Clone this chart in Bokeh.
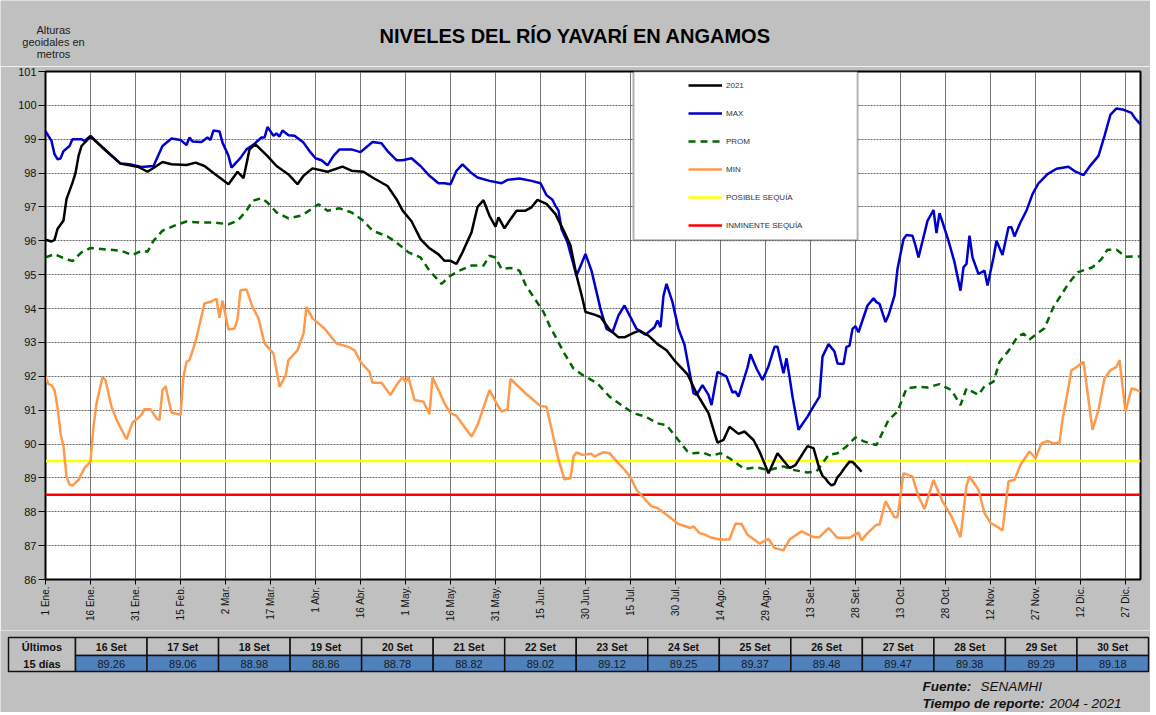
import numpy as np
from bokeh.plotting import figure
from bokeh.models import (Range1d, FixedTicker, Legend, LegendItem, BoxAnnotation)
from bokeh.layouts import column
from bokeh.embed import file_html
from bokeh.resources import INLINE
from bokeh.core.properties import value

FONT = "Liberation Sans"
BG = "#C0C0C0"

# ---------------- data (day of year, 0 = 1 Ene) ----------------
TICK_DAYS = list(range(0, 361, 15))
TICK_LABELS = ["1 Ene.", "16 Ene.", "31 Ene.", "15 Feb.", "2 Mar.", "17 Mar.", "1 Abr.",
               "16 Abr.", "1 May.", "16 May.", "31 May.", "15 Jun.", "30 Jun.", "15 Jul.",
               "30 Jul.", "14 Ago.", "29 Ago.", "13 Set.", "28 Set.", "13 Oct.", "28 Oct.",
               "12 Nov.", "27 Nov.", "12 Dic.", "27 Dic."]

TABLE_DATES = ["16 Set", "17 Set", "18 Set", "19 Set", "20 Set", "21 Set", "22 Set", "23 Set",
               "24 Set", "25 Set", "26 Set", "27 Set", "28 Set", "29 Set", "30 Set"]
TABLE_DAYS = list(range(258, 273))
TABLE_VALUES = [89.26, 89.06, 88.98, 88.86, 88.78, 88.82, 89.02, 89.12,
                89.25, 89.37, 89.48, 89.47, 89.38, 89.29, 89.18]

Y2021_DAYS = [0, 2, 3, 4, 6, 7, 9, 10, 11, 12, 15, 21, 25, 31, 34, 37, 39, 42, 47, 50, 53, 56,
              61, 64, 66, 68, 70, 74, 77, 81, 84, 86, 89, 94, 99, 102, 106, 109, 114, 117, 119,
              122, 125, 128, 131, 133, 135, 137, 139, 142, 144, 146, 148, 150, 151, 153, 155,
              157, 160, 162, 164, 167, 170, 173, 175, 177, 179, 180, 183, 185, 188, 191, 193,
              196, 198, 201, 204, 207, 210, 214, 217, 221, 223, 224, 226, 228, 231, 233, 236,
              238, 241, 244, 248, 250, 254, 256]
Y2021_VALS = [96.03, 95.98, 96.03, 96.35, 96.6, 97.23, 97.72, 98.0, 98.5, 98.8, 99.08, 98.6,
              98.28, 98.18, 98.04, 98.21, 98.33, 98.26, 98.24, 98.31, 98.21, 98.0, 97.67, 98.04,
              97.85, 98.7, 98.85, 98.5, 98.21, 97.96, 97.67, 97.92, 98.14, 98.04, 98.19, 98.07,
              98.04, 97.87, 97.62, 97.23, 96.9, 96.58, 96.05, 95.78, 95.6, 95.41, 95.41, 95.32,
              95.66, 96.25, 97.0, 97.2, 96.74, 96.42, 96.69, 96.37, 96.64, 96.89, 96.89, 96.99,
              97.21, 97.09, 96.79, 96.25, 95.86, 94.98, 94.29, 93.9, 93.82, 93.75, 93.38, 93.15,
              93.15, 93.28, 93.35, 93.2, 92.95, 92.77, 92.43, 92.06, 91.5, 90.91, 90.32, 90.04,
              90.12, 90.51, 90.3, 90.37, 90.12, 89.78, 89.14, 89.73, 89.29, 89.38, 89.94, 89.88]

MAX_DAYS = [0, 2, 3, 4, 5, 6, 8, 9, 12, 13, 15, 19, 25, 28, 32, 36, 39, 42, 45, 47, 48, 49, 52,
            54, 55, 56, 58, 59, 61, 62, 65, 67, 69, 72, 73, 74, 76, 77, 78, 79, 81, 83, 86, 88,
            90, 92, 94, 96, 98, 102, 105, 109, 112, 114, 117, 119, 122, 125, 128, 131, 133, 135,
            137, 139, 142, 144, 148, 152, 154, 158, 162, 165, 167, 169, 170, 171, 172, 174, 177,
            180, 182, 185, 187, 189, 191, 193, 197, 200, 203, 204, 205, 206, 207, 209, 211, 213,
            216, 217, 219, 221, 222, 224, 227, 229, 230, 231, 234, 235, 237, 239, 241, 243, 244,
            246, 247, 248, 249, 251, 254, 256, 258, 259, 261, 263, 264, 266, 267, 268, 269, 270,
            271, 274, 276, 277, 278, 280, 281, 283, 284, 286, 287, 289, 290, 291, 294, 296, 297,
            298, 299, 301, 303, 305, 306, 307, 308, 309, 311, 313, 314, 316, 317, 319, 321, 322,
            323, 325, 327, 329, 331, 334, 337, 341, 343, 346, 348, 351, 353, 355, 357, 359, 362,
            363, 365]
MAX_VALS = [99.24, 98.95, 98.56, 98.41, 98.43, 98.65, 98.8, 99.0, 99.0, 98.95, 99.1, 98.75,
            98.28, 98.26, 98.18, 98.21, 98.8, 99.02, 98.98, 98.83, 99.05, 98.93, 98.92, 99.05,
            98.98, 99.26, 99.23, 98.9, 98.51, 98.16, 98.45, 98.7, 98.82, 99.05, 99.05, 99.36,
            99.1, 99.17, 99.08, 99.26, 99.12, 99.1, 98.9, 98.65, 98.44, 98.38, 98.23, 98.51, 98.7,
            98.7, 98.62, 98.92, 98.88, 98.65, 98.38, 98.38, 98.44, 98.21, 97.92, 97.7, 97.7, 97.67,
            98.07, 98.26, 98.0, 97.87, 97.77, 97.7, 97.8, 97.84, 97.77, 97.7, 97.35, 97.21, 97.03,
            96.89, 96.35, 95.95, 94.97, 95.61, 95.12, 93.99, 93.4, 93.3, 93.8, 94.09, 93.4, 93.23,
            93.45, 93.65, 93.45, 94.38, 94.73, 94.19, 93.4, 92.93, 91.5, 91.45, 91.74, 91.45,
            91.15, 92.13, 91.99, 91.52, 91.55, 91.4, 92.26, 92.65, 92.23, 91.89, 92.3, 92.87,
            92.87, 92.09, 92.53, 91.99, 91.4, 90.42, 90.81, 91.11, 91.4, 92.58, 92.95, 92.73,
            92.38, 92.36, 92.87, 92.9, 93.4, 93.48, 93.3, 94.09, 94.3, 94.19, 94.14, 93.6, 93.8,
            94.38, 95.17, 96.05, 96.17, 96.15, 95.86, 95.51, 96.59, 96.91, 96.23, 96.82, 96.55,
            96.0, 95.37, 94.53, 95.22, 95.32, 96.15, 95.51, 95.02, 95.12, 94.68, 95.51, 96.0,
            95.58, 96.4, 96.4, 96.13, 96.55, 96.89, 97.38, 97.7, 97.97, 98.13, 98.19, 98.06,
            97.94, 98.19, 98.51, 99.1, 99.73, 99.91, 99.88, 99.78, 99.64, 99.44]

PROM_DAYS = [0, 3, 6, 9, 12, 15, 21, 25, 29, 32, 34, 36, 39, 43, 47, 52, 56, 61, 64, 67, 69, 72,
             74, 77, 81, 85, 87, 91, 94, 98, 102, 106, 109, 114, 117, 121, 125, 128, 132, 135,
             138, 142, 146, 148, 150, 152, 155, 158, 160, 163, 166, 168, 170, 173, 176, 179,
             184, 188, 192, 196, 200, 204, 207, 210, 214, 216, 219, 222, 225, 228, 231, 233,
             237, 241, 246, 249, 254, 257, 261, 264, 267, 270, 273, 277, 281, 284, 287, 291,
             294, 298, 302, 305, 307, 311, 313, 316, 318, 321, 324, 326, 328, 333, 336, 341,
             344, 349, 352, 354, 357, 360, 365]
PROM_VALS = [95.51, 95.61, 95.49, 95.4, 95.66, 95.79, 95.74, 95.71, 95.58, 95.71, 95.68, 96.0,
             96.3, 96.45, 96.57, 96.54, 96.54, 96.49, 96.59, 96.89, 97.18, 97.26, 97.13, 96.84,
             96.66, 96.74, 96.84, 97.08, 96.89, 96.96, 96.84, 96.59, 96.3, 96.13, 95.95, 95.66,
             95.51, 95.12, 94.73, 94.97, 95.12, 95.27, 95.27, 95.56, 95.51, 95.17, 95.2, 95.12,
             94.7, 94.3, 93.9, 93.5, 93.17, 92.67, 92.23, 92.04, 91.79, 91.4, 91.15, 90.91,
             90.81, 90.61, 90.56, 90.22, 89.78, 89.73, 89.75, 89.65, 89.73, 89.58, 89.39, 89.26,
             89.31, 89.23, 89.34, 89.24, 89.16, 89.19, 89.68, 89.73, 89.93, 90.2, 90.07, 89.97,
             90.71, 90.96, 91.64, 91.69, 91.67, 91.77, 91.59, 91.15, 91.64, 91.45, 91.71, 91.84,
             92.43, 92.75, 93.17, 93.26, 93.09, 93.42, 94.05, 94.74, 95.07, 95.22, 95.46, 95.74,
             95.74, 95.53, 95.54]

MIN_DAYS = [0, 1, 2, 3, 4, 5, 6, 7, 8, 9, 11, 13, 15, 16, 17, 19, 20, 22, 24, 27, 29, 32, 33, 35,
            37, 38, 39, 40, 42, 45, 46, 47, 48, 50, 53, 55, 57, 58, 59, 61, 63, 64, 65, 67, 69,
            71, 73, 76, 78, 80, 81, 84, 86, 87, 89, 93, 97, 101, 103, 105, 108, 109, 112, 115,
            117, 119, 120, 121, 123, 126, 128, 129, 133, 135, 137, 142, 144, 148, 151, 152, 154,
            155, 160, 165, 167, 169, 171, 173, 175, 176, 177, 179, 182, 183, 186, 188, 191, 193,
            195, 197, 199, 202, 204, 207, 211, 215, 216, 218, 220, 222, 225, 228, 230, 232, 234,
            238, 241, 243, 246, 248, 252, 256, 258, 261, 264, 268, 271, 272, 274, 277, 278, 280,
            283, 284, 286, 289, 291, 293, 296, 299, 302, 305, 307, 308, 311, 313, 315, 317, 319,
            321, 323, 325, 328, 330, 332, 334, 336, 338, 339, 342, 343, 346, 349, 351, 353, 355,
            357, 358, 360, 362, 363, 365]
MIN_VALS = [91.99, 91.77, 91.74, 91.59, 91.1, 90.32, 89.93, 89.04, 88.8, 88.77, 88.94, 89.29,
            89.48, 90.51, 91.2, 91.97, 91.89, 91.1, 90.66, 90.14, 90.63, 90.86, 91.03, 91.03,
            90.76, 90.71, 91.59, 91.71, 90.93, 90.86, 91.99, 92.43, 92.48, 93.02, 94.15, 94.2,
            94.29, 93.73, 94.23, 93.38, 93.41, 93.68, 94.54, 94.56, 94.05, 93.71, 92.97, 92.67,
            91.69, 92.01, 92.48, 92.77, 93.26, 94.05, 93.71, 93.41, 92.97, 92.87, 92.77, 92.43,
            92.13, 91.81, 91.81, 91.45, 91.74, 91.97, 91.84, 91.97, 91.3, 91.25, 90.88, 91.97,
            91.2, 90.91, 90.83, 90.22, 90.56, 91.59, 91.1, 90.96, 91.03, 91.92, 91.5, 91.12,
            91.1, 90.32, 89.53, 88.96, 88.99, 89.63, 89.75, 89.68, 89.71, 89.63, 89.76, 89.73,
            89.43, 89.24, 89.02, 88.65, 88.45, 88.16, 88.11, 87.91, 87.64, 87.52, 87.57, 87.37,
            87.32, 87.23, 87.18, 87.18, 87.65, 87.64, 87.32, 87.06, 87.2, 86.93, 86.86, 87.18,
            87.42, 87.25, 87.25, 87.52, 87.23, 87.23, 87.39, 87.16, 87.37, 87.62, 87.62, 88.31,
            87.84, 87.84, 89.14, 89.04, 88.45, 88.08, 88.94, 88.31, 87.86, 87.25, 88.77, 89.04,
            88.65, 87.96, 87.67, 87.57, 87.45, 88.9, 88.94, 89.39, 89.78, 89.58, 90.02, 90.09,
            90.02, 90.04, 90.71, 92.18, 92.23, 92.43, 90.42, 91.01, 91.94, 92.18, 92.28, 92.48,
            90.96, 91.64, 91.62, 91.55]

POSIBLE_SEQUIA = 89.5
INMINENTE_SEQUIA = 88.5
YEAR_SPAN = [0, 365]

TITLE = "NIVELES DEL RÍO YAVARÍ EN ANGAMOS"
Y_CAPTION = ["Alturas", "geoidales en", "metros"]

W = 1150

# ---------------- header (title + y caption) ----------------
h = figure(width=W, height=66, x_range=Range1d(0, W), y_range=Range1d(66, 0),
           output_backend="svg", toolbar_location=None, min_border=0,
           x_axis_type=None, y_axis_type=None, background_fill_color=BG,
           border_fill_color=BG, outline_line_color=None)
h.frame_align = False
h.text(x=[575], y=[35], text=[TITLE], text_align="center", text_baseline="middle",
       text_font=value(FONT), text_font_style="bold", text_font_size="20px",
       text_color="black")
h.text(x=[53, 53, 53], y=[29, 41, 53], text=Y_CAPTION, text_align="center",
       text_baseline="middle", text_font=value(FONT), text_font_size="11px",
       text_color="#222222")

# ---------------- main chart ----------------
p = figure(width=W, height=564, x_range=Range1d(0, 365), y_range=Range1d(86, 101),
           output_backend="svg", toolbar_location=None,
           min_border_left=45, min_border_right=10, min_border_top=5, min_border_bottom=51,
           background_fill_color="white", border_fill_color=BG)
p.frame_align = False

r_pos = p.line(YEAR_SPAN, [POSIBLE_SEQUIA] * 2, line_color="#FFFF00", line_width=2.5)
r_inm = p.line(YEAR_SPAN, [INMINENTE_SEQUIA] * 2, line_color="#FF0000", line_width=2.5)
r_min = p.line(MIN_DAYS, MIN_VALS, line_color="#FF9A4D", line_width=2.5)
r_prom = p.line(PROM_DAYS, PROM_VALS, line_color="#006600", line_width=2.5, line_dash="7 5")
r_max = p.line(MAX_DAYS, MAX_VALS, line_color="#0000CC", line_width=2.5)
r_2021 = p.line(Y2021_DAYS + TABLE_DAYS, Y2021_VALS + TABLE_VALUES, line_color="black",
                line_width=2.5)

p.xaxis.ticker = FixedTicker(ticks=TICK_DAYS)
p.xaxis.major_label_overrides = {d: lab for d, lab in zip(TICK_DAYS, TICK_LABELS)}
p.xaxis.major_label_orientation = np.pi / 2
p.yaxis.ticker = FixedTicker(ticks=list(range(86, 102)))
for ax in (p.xaxis, p.yaxis):
    ax.axis_line_color = "black"
    ax.major_tick_line_color = "black"
    ax.major_tick_in = 0
    ax.minor_tick_line_color = None
    ax.major_label_text_font = FONT
    ax.major_label_text_color = "#111111"
    ax.major_label_standoff = 2
p.yaxis.major_tick_out = 7
p.xaxis.major_tick_out = 5
p.yaxis.major_label_text_font_size = "11px"
p.xaxis.major_label_text_font_size = "10px"

p.xgrid.grid_line_color = "#555555"
p.xgrid.grid_line_alpha = 0.8
p.ygrid.grid_line_color = "#444444"
p.ygrid.grid_line_dash = "2 1"
p.ygrid.grid_line_alpha = 0.8
p.outline_line_color = "black"
p.outline_line_width = 2

box = BoxAnnotation(left=196, right=270.7, top=101, bottom=96.02, fill_color="white",
                    fill_alpha=1, line_color="black", line_width=2, level="annotation")
p.add_layout(box)
legend = Legend(items=[LegendItem(label="2021", renderers=[r_2021]),
                       LegendItem(label="MAX", renderers=[r_max]),
                       LegendItem(label="PROM", renderers=[r_prom]),
                       LegendItem(label="MIN", renderers=[r_min]),
                       LegendItem(label="POSIBLE SEQUÍA", renderers=[r_pos]),
                       LegendItem(label="INMINENTE SEQUÍA", renderers=[r_inm])],
                location=(639, 340), padding=4, spacing=8, margin=0,
                label_height=20, glyph_height=20, glyph_width=34, label_standoff=4,
                label_text_font=FONT, label_text_font_size="8px", label_text_color="#333333",
                border_line_alpha=0, background_fill_alpha=0)
p.add_layout(legend)

# ---------------- table of the last 15 days + footer ----------------
t = figure(width=W, height=82, x_range=Range1d(0, W), y_range=Range1d(712, 630),
           output_backend="svg", toolbar_location=None, min_border=0,
           x_axis_type=None, y_axis_type=None, background_fill_color=BG,
           border_fill_color=BG, outline_line_color=None)
t.frame_align = False
n = len(TABLE_DATES)
x0, x1 = 75, 1148
cw = (x1 - x0) / n
lefts = [x0 + i * cw for i in range(n)]
rights = [l + cw for l in lefts]
centers = [l + cw / 2 for l in lefts]
t.quad(left=[8], right=[x0], top=[637], bottom=[671], fill_color=BG, line_color="#111111",
       line_width=1.5)
t.quad(left=lefts, right=rights, top=637, bottom=655, fill_color=BG, line_color="#111111",
       line_width=1.5)
t.quad(left=lefts, right=rights, top=655, bottom=671, fill_color="#4F81BD",
       line_color="#111111", line_width=1.5)
t.text(x=[41.5, 41.5], y=[646, 663], text=["Últimos", "15 días"], text_align="center",
       text_baseline="middle", text_font=value(FONT), text_font_style="bold",
       text_font_size="11px", text_color="#111111")
t.text(x=centers, y=[646] * n, text=TABLE_DATES, text_align="center", text_baseline="middle",
       text_font=value(FONT), text_font_style="bold", text_font_size="10.5px",
       text_color="#111111")
t.text(x=centers, y=[663] * n, text=[f"{v:.2f}" for v in TABLE_VALUES], text_align="center",
       text_baseline="middle", text_font=value(FONT), text_font_size="11px",
       text_color="#1a1a1a")
t.text(x=[922, 922], y=[686, 703], text=["Fuente:", "Tiempo de reporte:"],
       text_baseline="middle", text_font=value(FONT), text_font_style="bold italic",
       text_font_size="13.5px", text_color="#111111")
t.text(x=[980, 1049], y=[686, 703], text=["SENAMHI", "2004 -  2021"],
       text_baseline="middle", text_font=value(FONT), text_font_style="italic",
       text_font_size="13.5px", text_color="#111111")

layout = column(h, p, t, spacing=0)
open("out.html", "w").write(file_html(layout, INLINE))
